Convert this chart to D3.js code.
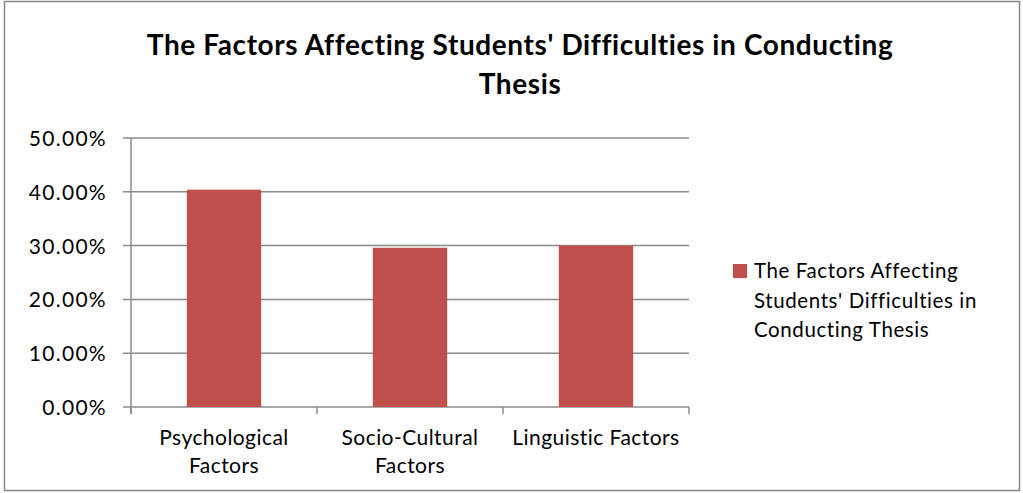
<!DOCTYPE html>
<html>
<head>
<meta charset="utf-8">
<script src="https://cdn.jsdelivr.net/npm/d3@7"></script>
<style>
  body { margin: 0; background: #fff; }
  text { font-family: Lato, "Open Sans", sans-serif; fill: #000; }
</style>
</head>
<body>
<div id="chart"></div>
<script>
const categories = [["Psychological", "Factors"], ["Socio-Cultural", "Factors"], ["Linguistic Factors"]];
const values = [0.404, 0.296, 0.300];
const yTicks = [0, 0.1, 0.2, 0.3, 0.4, 0.5];
const seriesName = ["The Factors Affecting", "Students' Difficulties in", "Conducting Thesis"];
const titleLines = ["The Factors Affecting Students' Difficulties in Conducting", "Thesis"];

const W = 1023, H = 493;
const plotL = 131, plotR = 689, plotT = 138, plotB = 407;
const barColor = "#C0504D";

const svg = d3.select("#chart").append("svg").attr("width", W).attr("height", H);

// outer border
svg.append("rect").attr("x", 4.5).attr("y", 1.5).attr("width", 1015).attr("height", 489)
  .attr("fill", "none").attr("stroke", "#888").attr("stroke-width", 1.5);

// title
svg.append("g").selectAll("text").data(titleLines).enter().append("text")
  .attr("x", 520).attr("y", (d, i) => 55 + i * 39)
  .attr("text-anchor", "middle")
  .style("font-weight", "bold").style("font-size", "28px").style("letter-spacing", "0.6px")
  .text(d => d);

const x = d3.scaleBand().domain(d3.range(categories.length)).range([plotL, plotR]).paddingInner(0.6).paddingOuter(0.3);
const xBand = d3.scaleBand().domain(d3.range(categories.length)).range([plotL, plotR]);
const y = d3.scaleLinear().domain([0, 0.5]).range([plotB, plotT]);

// gridlines
svg.append("g").selectAll("line").data(yTicks).enter().append("line")
  .attr("x1", plotL - 8).attr("x2", plotR)
  .attr("y1", d => y(d)).attr("y2", d => y(d))
  .attr("stroke", "#8c8c8c").attr("stroke-width", 1.5);

// y axis line
svg.append("line").attr("x1", plotL).attr("x2", plotL).attr("y1", plotT).attr("y2", plotB + 7)
  .attr("stroke", "#8c8c8c").attr("stroke-width", 1.5);

// x axis ticks
svg.append("g").selectAll("line").data(d3.range(categories.length + 1)).enter().append("line")
  .attr("x1", i => i < categories.length ? xBand(i) : plotR)
  .attr("x2", i => i < categories.length ? xBand(i) : plotR)
  .attr("y1", plotB).attr("y2", plotB + 7)
  .attr("stroke", "#8c8c8c").attr("stroke-width", 1.5);

// y labels
svg.append("g").selectAll("text").data(yTicks).enter().append("text")
  .attr("x", 107).attr("y", d => y(d) + 8)
  .attr("text-anchor", "end").style("font-size", "21px").style("letter-spacing", "1.3px")
  .text(d => d3.format(".2%")(d));

// bars
svg.append("g").selectAll("rect").data(values).enter().append("rect")
  .attr("x", (d, i) => x(i)).attr("width", x.bandwidth())
  .attr("y", d => y(d)).attr("height", d => plotB - y(d))
  .attr("fill", barColor);

// x labels
const xl = svg.append("g").selectAll("text").data(categories).enter().append("text")
  .attr("x", (d, i) => xBand(i) + xBand.bandwidth() / 2)
  .attr("y", 445).attr("text-anchor", "middle")
  .style("font-size", "21px").style("letter-spacing", "0.45px");
xl.selectAll("tspan").data(d => d).enter().append("tspan")
  .attr("x", function () { return d3.select(this.parentNode).attr("x"); })
  .attr("dy", (d, i) => i === 0 ? 0 : 28)
  .text(d => d);

// legend
svg.append("rect").attr("x", 733).attr("y", 264).attr("width", 14).attr("height", 14).attr("fill", barColor);
svg.append("g").selectAll("text").data(seriesName).enter().append("text")
  .attr("x", 754).attr("y", (d, i) => 278 + i * 29.5)
  .style("font-size", "20.5px").style("letter-spacing", "0.6px")
  .text(d => d);
</script>
</body>
</html>
